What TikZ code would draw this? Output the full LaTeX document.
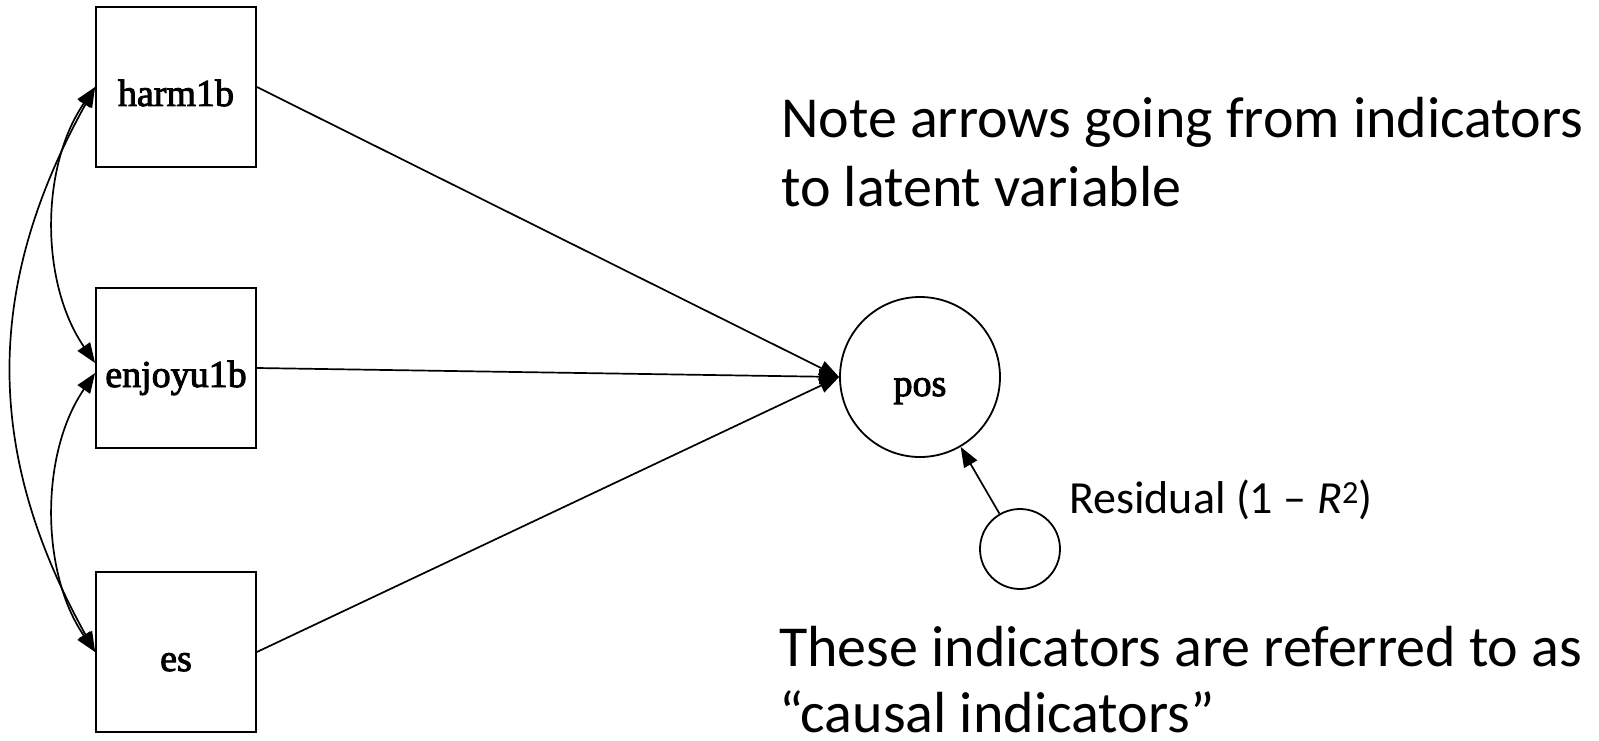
\documentclass[tikz,border=0pt]{standalone}
\usepackage{fontspec}
\setmainfont{Liberation Serif}
\newfontfamily\nodefont[FakeBold=2.5]{Liberation Serif}
\newfontfamily\notefont{Carlito}
\usetikzlibrary{arrows.meta}
\tikzset{
  box/.style={draw, line width=1.8pt, minimum width=160pt, minimum height=160pt, inner sep=0pt,
    text height=38pt, text depth=0pt, font=\nodefont\fontsize{38}{40}\selectfont},
  lat/.style={circle, draw, line width=1.8pt, minimum size=160pt, inner sep=0pt,
    text height=38pt, text depth=0pt, font=\nodefont\fontsize{38}{40}\selectfont},
  resid/.style={circle, draw, line width=1.8pt, minimum size=80pt, inner sep=0pt},
  arr/.style={-{Triangle[length=20pt,width=15pt]}, line width=1.7pt},
  darr/.style={{Triangle[length=20pt,width=15pt]}-{Triangle[length=20pt,width=15pt]}, line width=1.7pt},
  bigtxt/.style={anchor=base west, inner sep=0pt, font=\notefont\fontsize{58}{63}\selectfont},
  midtxt/.style={anchor=base west, inner sep=0pt, font=\notefont\fontsize{46}{50}\selectfont}
}
\begin{document}
\begin{tikzpicture}[x=1pt,y=-1pt]
\useasboundingbox (0,0) rectangle (1599,741);
\node[box] (harm) at (176,87) {harm1b};
\node[box] (enjoy) at (176,368) {enjoyu1b};
\node[box] (es) at (176,652) {es};
\node[lat] (pos) at (920,377) {pos};
\node[resid] (res) at (1020,549) {};

\draw[arr] (harm.east) -- (pos.west);
\draw[arr] (enjoy.east) -- (pos.west);
\draw[arr] (es.east) -- (pos.west);
\draw[arr] (res) -- (pos);

\draw[darr] (harm.west) .. controls +(-55,80) and +(-55,-80) .. ([yshift=5pt]enjoy.west);
\draw[darr] ([yshift=-5pt]enjoy.west) .. controls +(-55,80) and +(-55,-80) .. (es.west);
\draw[darr] (harm.west) .. controls +(-111,200) and +(-111,-200) .. (es.west);

\node[bigtxt] (n1) at (781,138) {Note arrows going from indicators};
\node[bigtxt] (n2) at (781,207) {to latent variable};
\node[midtxt] (rl) at (1069,513) {Residual (1 – \textit{R}\textsuperscript{2})};
\node[bigtxt] (t1) at (779,666) {These indicators are referred to as};
\node[bigtxt] (t2) at (779,732) {“causal indicators”};
\end{tikzpicture}
\end{document}
